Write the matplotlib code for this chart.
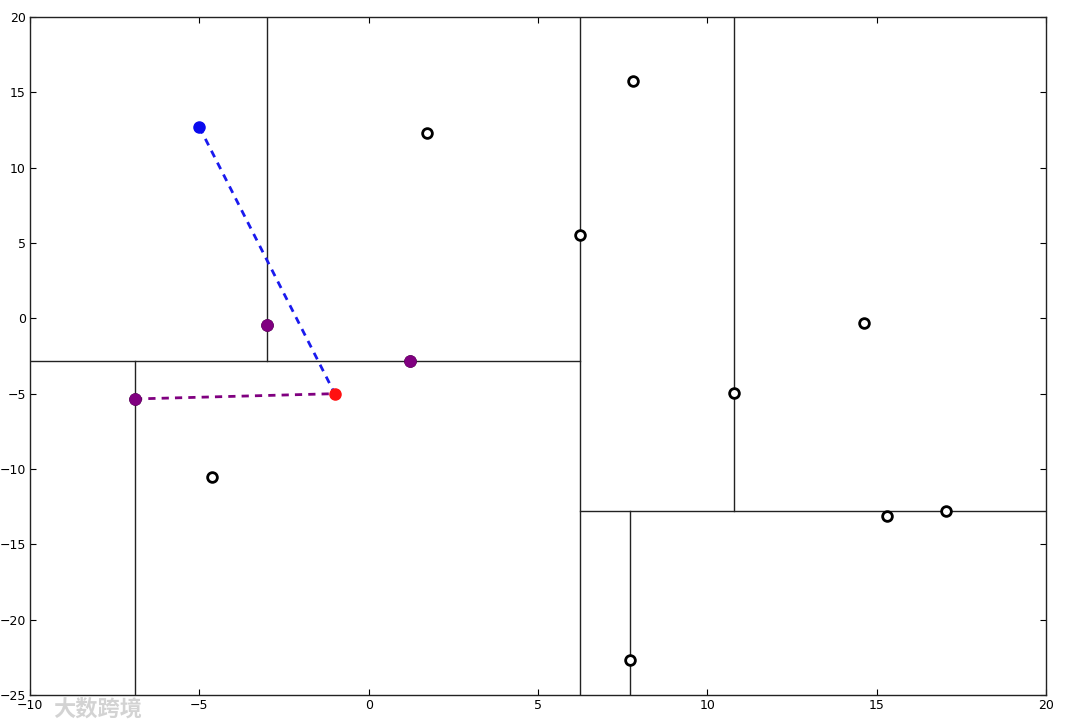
import numpy as np
import matplotlib
matplotlib.use('Agg')
import matplotlib.pyplot as plt

# kd-tree points (open circles)
pts_x = [6.24, 1.22, -3.0, -6.9, -4.63, 1.72, 17.04, 10.79, 7.71, 7.80, 14.62, 15.30]
pts_y = [5.53, -2.83, -0.44, -5.35, -10.52, 12.3, -12.78, -4.95, -22.67, 15.75, -0.31, -13.11]

# visited nodes (purple), query (red), current best (blue)
visited_x = [-3.0, 1.22, -6.9]
visited_y = [-0.44, -2.83, -5.35]
query = (-1.0, -5.0)
best = (-5.0, 12.7)

# splits: (axis, value, lo, hi)
splits = [
    ('v', 6.24, -25, 20),
    ('h', -2.83, -10, 6.24),
    ('v', -3.0, -2.83, 20),
    ('v', -6.9, -25, -2.83),
    ('h', -12.78, 6.24, 20),
    ('v', 10.79, -12.78, 20),
    ('v', 7.71, -25, -12.78),
]

xlim = (-10, 20)
ylim = (-25, 20)

fig = plt.figure(figsize=(10.67, 7.23), dpi=100)
ax = fig.add_axes([0.0281, 0.0387, 0.9522, 0.9378])

for kind, val, lo, hi in splits:
    if kind == 'v':
        ax.plot([val, val], [lo, hi], color='#222222', lw=1.0, zorder=1)
    else:
        ax.plot([lo, hi], [val, val], color='#222222', lw=1.0, zorder=1)

# dashed search lines
ax.plot([best[0], query[0]], [best[1], query[1]], color='#1a1aee', lw=2,
        dashes=(2.6, 2.2), zorder=2)
ax.plot([visited_x[2], query[0]], [visited_y[2], query[1]], color='purple', lw=2,
        dashes=(2.6, 2.2), zorder=2)

# all points as open circles
ax.plot(pts_x, pts_y, 'o', mfc='white', mec='black', mew=2, ms=7, ls='none', zorder=3)
ax.plot(visited_x, visited_y, 'o', color='purple', ms=8, ls='none', zorder=4)
ax.plot([query[0]], [query[1]], 'o', color='#ff1010', ms=8, ls='none', zorder=4)
ax.plot([best[0]], [best[1]], 'o', color='#0a0aee', ms=8, ls='none', zorder=4)

ax.set_xlim(xlim)
ax.set_ylim(ylim)
ax.set_xticks(np.arange(-10, 21, 5))
ax.set_yticks(np.arange(-25, 21, 5))
ax.tick_params(direction='in', length=4, top=True, right=True, labelsize=9, pad=3)
for s in ax.spines.values():
    s.set_linewidth(1.0)
    s.set_color('#222222')

# watermark
fig.text(0.05, 0.01, '大数跨境', fontsize=16, color='#cccccc', alpha=0.85,
         family=['Noto Sans CJK SC', 'DejaVu Sans'], fontweight='bold')

fig.savefig('out.png', dpi=100)
